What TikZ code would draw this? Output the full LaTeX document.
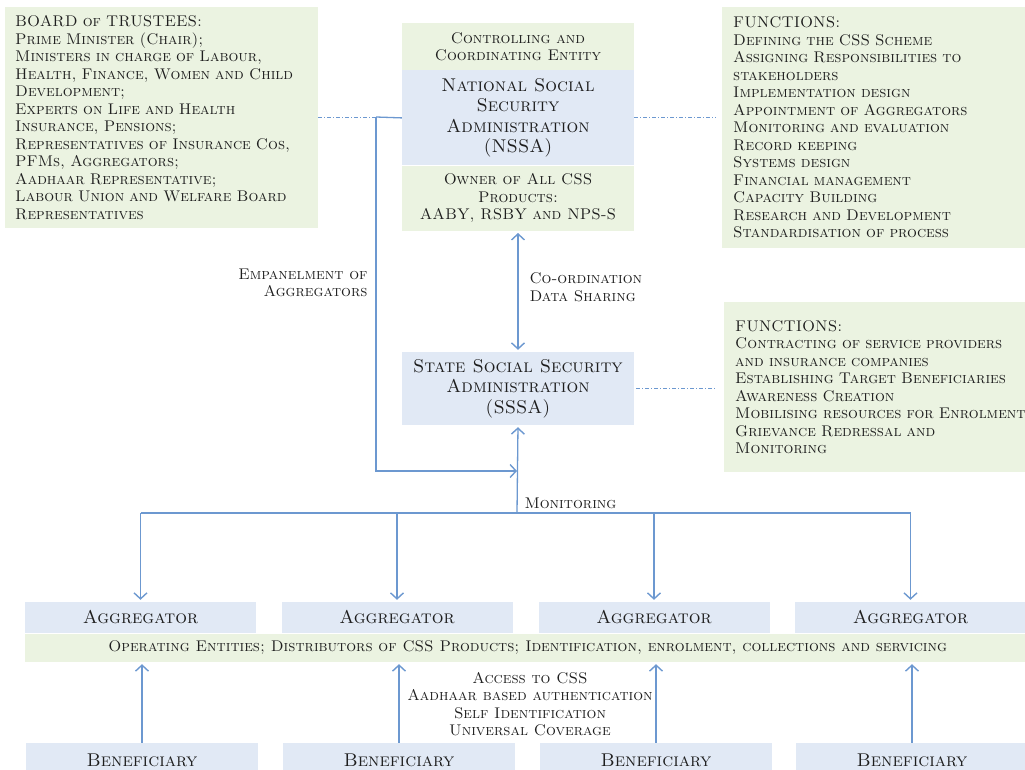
\documentclass[tikz,border=0pt]{standalone}
\usetikzlibrary{positioning,arrows.meta}
\definecolor{boxgreen}{HTML}{EBF3E1}
\definecolor{boxblue}{HTML}{E1E9F5}
\definecolor{linkblue}{HTML}{6C98D0}
\definecolor{ink}{HTML}{1E1E1E}
\tikzset{
  small/.style={font=\fontsize{15.5}{17.5}\selectfont\scshape},
  large/.style={font=\fontsize{18.5}{20.5}\selectfont\scshape},
  gbox/.style={fill=boxgreen,inner sep=0pt},
  bbox/.style={fill=boxblue,inner sep=0pt},
  barb/.tip={Straight Barb[length=6pt,width=13pt,line width=1.4pt]},
  link/.style={draw=linkblue,line width=1.3pt,-barb},
  tie/.style={draw=linkblue,line width=0.8pt,dash pattern=on 4pt off 2pt on 1pt off 2pt}
}
\begin{document}
\begin{tikzpicture}[x=1pt,y=-1pt,every node/.style={text=ink,small}]
  \useasboundingbox (0,0) rectangle (1025,770);
  \node[gbox,anchor=north west,minimum height=221,text width=293,inner xsep=10pt,align=left] (board) at (5,7)
    {BOARD of TRUSTEES:\\Prime Minister (Chair);\\Ministers in charge of Labour,\\Health, Finance, Women and Child\\Development;\\Experts on Life and Health\\Insurance, Pensions;\\Representatives of Insurance Cos,\\PFMs, Aggregators;\\Aadhaar Representative;\\Labour Union and Welfare Board\\Representatives};
  \node[gbox,minimum width=232,minimum height=47,align=center] (ctrl) at (518,46.5) {Controlling and\\Coordinating Entity};
  \node[bbox,large,minimum width=232,minimum height=95,align=center,below=0pt of ctrl] (nssa) {National Social\\Security\\Administration\\(NSSA)};
  \node[gbox,minimum width=232,minimum height=65,align=center,below=0pt of nssa] (owner) {Owner of All CSS\\Products:\\AABY, RSBY and NPS-S};
  \node[gbox,anchor=north west,minimum height=241,text width=292,inner xsep=11pt,align=left] (fnat) at (722,7)
    {FUNCTIONS:\\Defining the CSS Scheme\\Assigning Responsibilities to\\stakeholders\\Implementation design\\Appointment of Aggregators\\Monitoring and evaluation\\Record keeping\\Systems design\\Financial management\\Capacity Building\\Research and Development\\Standardisation of process};
  \node[bbox,large,minimum width=232,minimum height=73,align=center] (sssa) at (518,388.5) {State Social Security\\Administration\\(SSSA)};
  \node[gbox,anchor=north west,minimum height=170,text width=300,inner xsep=11pt,align=left] (fstate) at (724,302)
    {FUNCTIONS:\\Contracting of service providers\\and insurance companies\\Establishing Target Beneficiaries\\Awareness Creation\\Mobilising resources for Enrolment\\Grievance Redressal and\\Monitoring};
  \foreach \i/\x in {1/140.5,2/397,3/654,4/910.5}
    \node[bbox,large,minimum width=231,minimum height=31] (agg\i) at (\x,617.5) {Aggregator};
  \node[gbox,anchor=west,minimum width=1005,minimum height=28] (ops) at (25,648)
    {Operating Entities; Distributors of CSS Products; Identification, enrolment, collections and servicing};
  \foreach \i/\x in {1/142,2/399,3/656,4/912}
    \node[bbox,large,minimum width=232,minimum height=35] (ben\i) at (\x,760.5) {Beneficiary};

  \coordinate (split) at (376,117);
  \coordinate (join) at (517,471);
  \coordinate (hub) at (517,513);
  \draw[tie] (board.east |- split) -- (split);
  \draw[tie,shorten >=6pt] (nssa.east) -- (fnat.west |- nssa.east);
  \draw[tie,shorten <=2pt,shorten >=8pt] (sssa.east) -- (fstate.west |- sssa.east);
  \draw[link,-] (split) -- (nssa.west);
  \draw[link] (split) -- (split |- join) -- (join);
  \draw[link,barb-barb,shorten <=2pt,shorten >=2pt] (owner.south) -- (sssa.north);
  \draw[link,shorten >=2pt] (hub) -- (sssa.south);
  \draw[link,-] (agg1.north |- hub) -- (agg4.north |- hub);
  \foreach \i in {1,...,4} {
    \draw[link,shorten >=2pt] (agg\i.north |- hub) -- (agg\i.north);
    \draw[link,shorten >=2pt] (ben\i.north) -- (ops.south -| ben\i.north);
  }
  \node[anchor=east,align=right] (empanel) at (371,283) {Empanelment of\\Aggregators};
  \node[anchor=west,align=left] (coord) at (526,287) {Co-ordination\\Data Sharing};
  \node[anchor=west] (monit) at (521,503) {Monitoring};
  \node[align=center] (access) at (530,704) {Access to CSS\\Aadhaar based authentication\\Self Identification\\Universal Coverage};
\end{tikzpicture}
\end{document}
